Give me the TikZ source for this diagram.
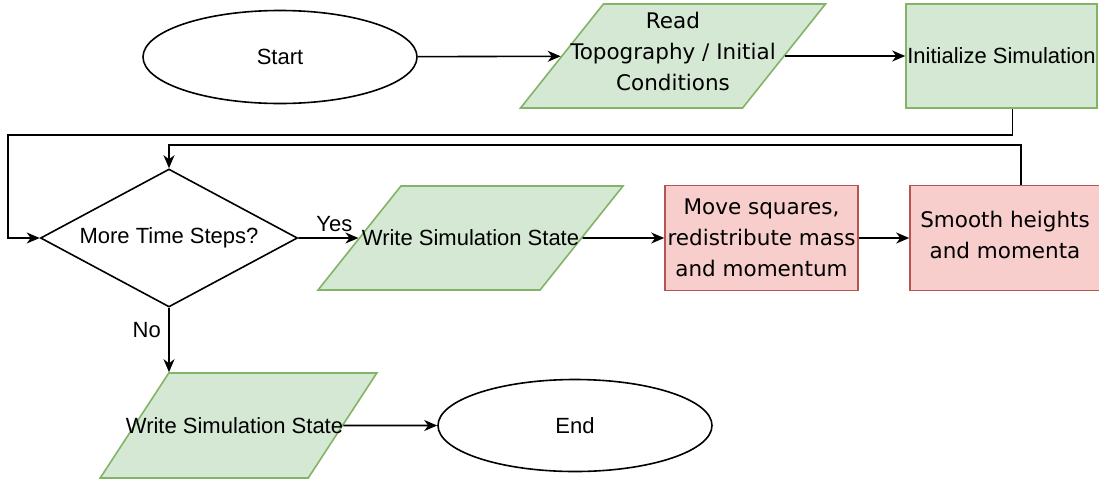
\documentclass[tikz,border=0pt]{standalone}
\usepackage{fontspec}
\setmainfont{Liberation Sans}
\newfontfamily\vfont{DejaVu Sans}
\usetikzlibrary{shapes.geometric,arrows.meta}
\definecolor{iofill}{HTML}{D5E8D4}
\definecolor{iodraw}{HTML}{82B366}
\definecolor{procfill}{HTML}{F8CECC}
\definecolor{procdraw}{HTML}{B85450}

\begin{document}
\begin{tikzpicture}[x=1pt,y=-1pt,font=\fontsize{22}{26}\selectfont,line width=1.6pt,
    term/.style={ellipse, draw, minimum width=274pt, minimum height=93pt},
    io/.style={trapezium, trapezium left angle=60, trapezium right angle=120, trapezium stretches=true,
      draw=iodraw, fill=iofill, minimum width=305pt, minimum height=104pt, inner sep=0pt},
    proc/.style={rectangle, draw=procdraw, fill=procfill, minimum height=105pt, inner sep=0pt},
    cond/.style={diamond, draw, aspect=1.83, minimum width=257pt, minimum height=138pt, inner sep=0pt},
    vtxt/.style={font=\vfont\fontsize{21.5}{31}\selectfont, align=center},
    flow/.style={-{Stealth[length=13pt,width=11pt,inset=4pt]}}]

    \useasboundingbox (0,0) rectangle (1099,485);

    % top row
    \node[term] (start) at (280,57) {Start};
    \node[io] (read) at (673,56) {\phantom{X}};
    \node[vtxt] (readtxt) at ([yshift=5pt]read) {Read\\Topography / Initial\\Conditions};
    \node[rectangle, draw=iodraw, fill=iofill, minimum width=191pt, minimum height=104pt, inner sep=0pt] (init) at (1001.5,56) {Initialize Simulation};

    % loop row
    \node[cond] (steps) at (169,238) {More Time Steps?};
    \node[io] (wmid) at (470.5,238) {\phantom{X}};
    \node at (wmid) (wmidtxt) {Write Simulation State};
    \node[proc, minimum width=193pt] (move) at (761.5,238) {};
    \node[vtxt] (movetxt) at (move) {Move squares,\\redistribute mass\\and momentum};
    \node[proc, minimum width=190pt] (smooth) at (1005,238) {};
    \node[vtxt] (smoothtxt) at ([yshift=3pt]smooth) {Smooth heights\\and momenta};

    % bottom row
    \node[io, trapezium left angle=64.5, trapezium right angle=115.5, minimum width=277pt, minimum height=105pt] (wbot) at (238.5,425.5) {\phantom{X}};
    \node at ([xshift=-4pt]wbot) (wbottxt) {Write Simulation State};
    \node[term, minimum height=92pt] (end) at (575,425.5) {End};

    \coordinate (back) at (8,135);

    \draw[flow] (start) -- (read);
    \draw[flow] (read) -- (init);
    \draw[flow] ([xshift=11pt]init.south) |- (back) |- (steps.west);
    \draw[flow] (steps.east) -- (wmid) node[pos=0.6, above=2pt] {Yes};
    \draw[flow] (wmid) -- (move);
    \draw[flow] (move) -- (smooth);
    \draw[flow] ([xshift=16pt]smooth.north) -- ++(0,-40) -| (steps.north);
    \draw[flow] (steps.south) -- (steps.south |- wbot.north) node[pos=0.35, left=4pt] {No};
    \draw[flow] (wbot) -- (end);
    %
\end{tikzpicture}
\end{document}
